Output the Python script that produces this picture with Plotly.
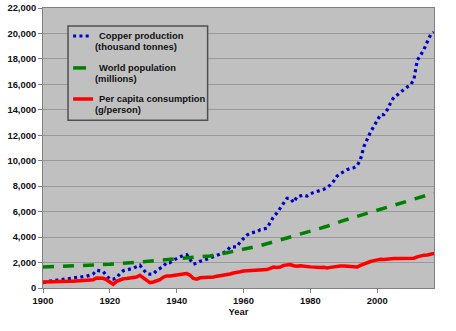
import plotly.graph_objects as go

years = list(range(1900, 2018))

# World copper production, thousand tonnes (annual)
copper_kt = [
    420, 500, 540, 570, 600, 650, 680, 690, 720, 760,
    800, 860, 900, 930, 1000, 1100, 1390, 1370, 1300, 970,
    700, 690, 800, 1130, 1350, 1420, 1470, 1550, 1680, 1790,
    1450, 1150, 1080, 1090, 1380, 1550, 1700, 2000, 1990, 2180,
    2350, 2450, 2560, 2630, 2240, 1870, 1950, 2100, 2160, 2250,
    2370, 2480, 2560, 2660, 2780, 2900, 3230, 3250, 3230, 3620,
    3900, 4150, 4320, 4380, 4420, 4580, 4650, 4700, 5150, 5600,
    5900, 6250, 6700, 7040, 7040, 6720, 7170, 7250, 7300, 7220,
    7400, 7500, 7580, 7660, 7750, 7900, 8100, 8400, 8800, 9000,
    9180, 9300, 9400, 9450, 9600, 10100, 11100, 11700, 12250, 12700,
    13150, 13620, 13620, 14000, 14550, 15000, 15170, 15350, 15600, 15800,
    15950, 16400, 17900, 18300, 18750, 19350, 19900, 20100,
]

# World population, millions
pop_years = [1900, 1910, 1920, 1930, 1940, 1950, 1955, 1960, 1965, 1970,
             1975, 1980, 1985, 1990, 1995, 2000, 2005, 2010, 2015, 2017]
population_m = [1650, 1750, 1860, 2070, 2300, 2520, 2770, 3020, 3330, 3700,
                4070, 4440, 4850, 5310, 5720, 6120, 6520, 6920, 7300, 7450]

# Per capita consumption, g/person (annual)
per_capita_g = [
    470, 470, 470, 470, 490, 500, 520, 530, 530, 540,
    550, 550, 570, 600, 600, 650, 790, 790, 760, 650,
    470, 290, 520, 650, 720, 740, 770, 790, 860, 1000,
    800, 560, 420, 470, 530, 660, 850, 950, 950, 1000,
    1050, 1080, 1100, 1130, 1000, 750, 690, 800, 810, 820,
    830, 870, 920, 960, 1000, 1020, 1100, 1180, 1200, 1280,
    1340, 1360, 1390, 1400, 1440, 1450, 1440, 1450, 1550, 1650,
    1620, 1650, 1780, 1800, 1840, 1750, 1710, 1750, 1700, 1650,
    1660, 1640, 1600, 1610, 1620, 1580, 1620, 1660, 1710, 1730,
    1720, 1710, 1700, 1680, 1650, 1780, 1900, 2000, 2080, 2150,
    2240, 2260, 2240, 2280, 2320, 2310, 2310, 2320, 2310, 2320,
    2330, 2340, 2450, 2550, 2580, 2600, 2650, 2710,
]

y_ticks = list(range(0, 22001, 2000))
x_ticks = [1900, 1920, 1940, 1960, 1980, 2000]

series_names = [
    ("Copper production", "(thousand tonnes)"),
    ("World population", "(millions)"),
    ("Per capita consumption", "(g/person)"),
]
series_colors = ["#0000c8", "#008000", "#ff0000"]
series_dash = ["3px,3.3px", "11px,9px", "solid"]
series_width = [3.2, 3.5, 3.5]

FONT = "Arial, 'Liberation Sans', sans-serif"
FS = 9.4

fig = go.Figure()
for (name, xs, ys), color, dash, w in zip(
    [(series_names[0], years, copper_kt),
     (series_names[1], pop_years, population_m),
     (series_names[2], years, per_capita_g)],
    series_colors, series_dash, series_width,
):
    fig.add_trace(go.Scatter(
        x=xs, y=ys, mode="lines", name=" ".join(name),
        line=dict(color=color, width=w, dash=dash), showlegend=False,
    ))

# Boxed key in the upper-left of the plot area (paper coordinates)
fig.add_shape(type="rect", xref="paper", yref="paper",
              x0=0.064, x1=0.421, y0=0.599, y1=0.936,
              line=dict(color="#505050", width=1.5), fillcolor="#c0c0c0",
              layer="above")
key_rows_y = [0.900, 0.786, 0.675]
key_sample_x1 = [0.118, 0.110, 0.128]
for i, ((l1, l2), color, dash, w) in enumerate(
        zip(series_names, series_colors, series_dash, series_width)):
    yk = key_rows_y[i]
    fig.add_shape(type="line", xref="paper", yref="paper",
                  x0=0.077, x1=key_sample_x1[i], y0=yk, y1=yk,
                  line=dict(color=color, width=w,
                            dash="3px,3.3px" if i == 0 else "solid"),
                  layer="above")
    fig.add_annotation(xref="paper", yref="paper", x=0.137, y=yk,
                       xanchor="left", yanchor="middle", showarrow=False,
                       text="<b>%s</b>" % l1,
                       font=dict(family=FONT, size=FS, color="#111111"))
    fig.add_annotation(xref="paper", yref="paper", x=0.129, y=yk - 0.039,
                       xanchor="left", yanchor="middle", showarrow=False,
                       text="<b>%s</b>" % l2,
                       font=dict(family=FONT, size=FS, color="#111111"))

fig.update_layout(
    width=456, height=331,
    margin=dict(l=43, r=22, t=8, b=43, autoexpand=False),
    paper_bgcolor="white",
    plot_bgcolor="#c0c0c0",
    font=dict(family=FONT, size=FS, color="#111111"),
    showlegend=False,
    xaxis=dict(
        range=[1900, 2017], tickvals=x_ticks, showgrid=False,
        ticks="outside", ticklen=4, tickcolor="#808080",
        showline=True, linecolor="#808080", linewidth=1, mirror=True,
        tickfont=dict(family=FONT, size=FS, weight="bold"),
        title=dict(text="<b>Year</b>", font=dict(family=FONT, size=FS), standoff=3),
        zeroline=False, automargin=False,
    ),
    yaxis=dict(
        range=[0, 22000], tickvals=y_ticks, tickformat=",d",
        showgrid=True, gridcolor="#9a9a9a", gridwidth=1,
        ticks="outside", ticklen=4, tickcolor="#808080",
        showline=True, linecolor="#808080", linewidth=1, mirror=True,
        tickfont=dict(family=FONT, size=FS, weight="bold"),
        zeroline=False, automargin=False,
    ),
)

fig.write_html("out.html")
